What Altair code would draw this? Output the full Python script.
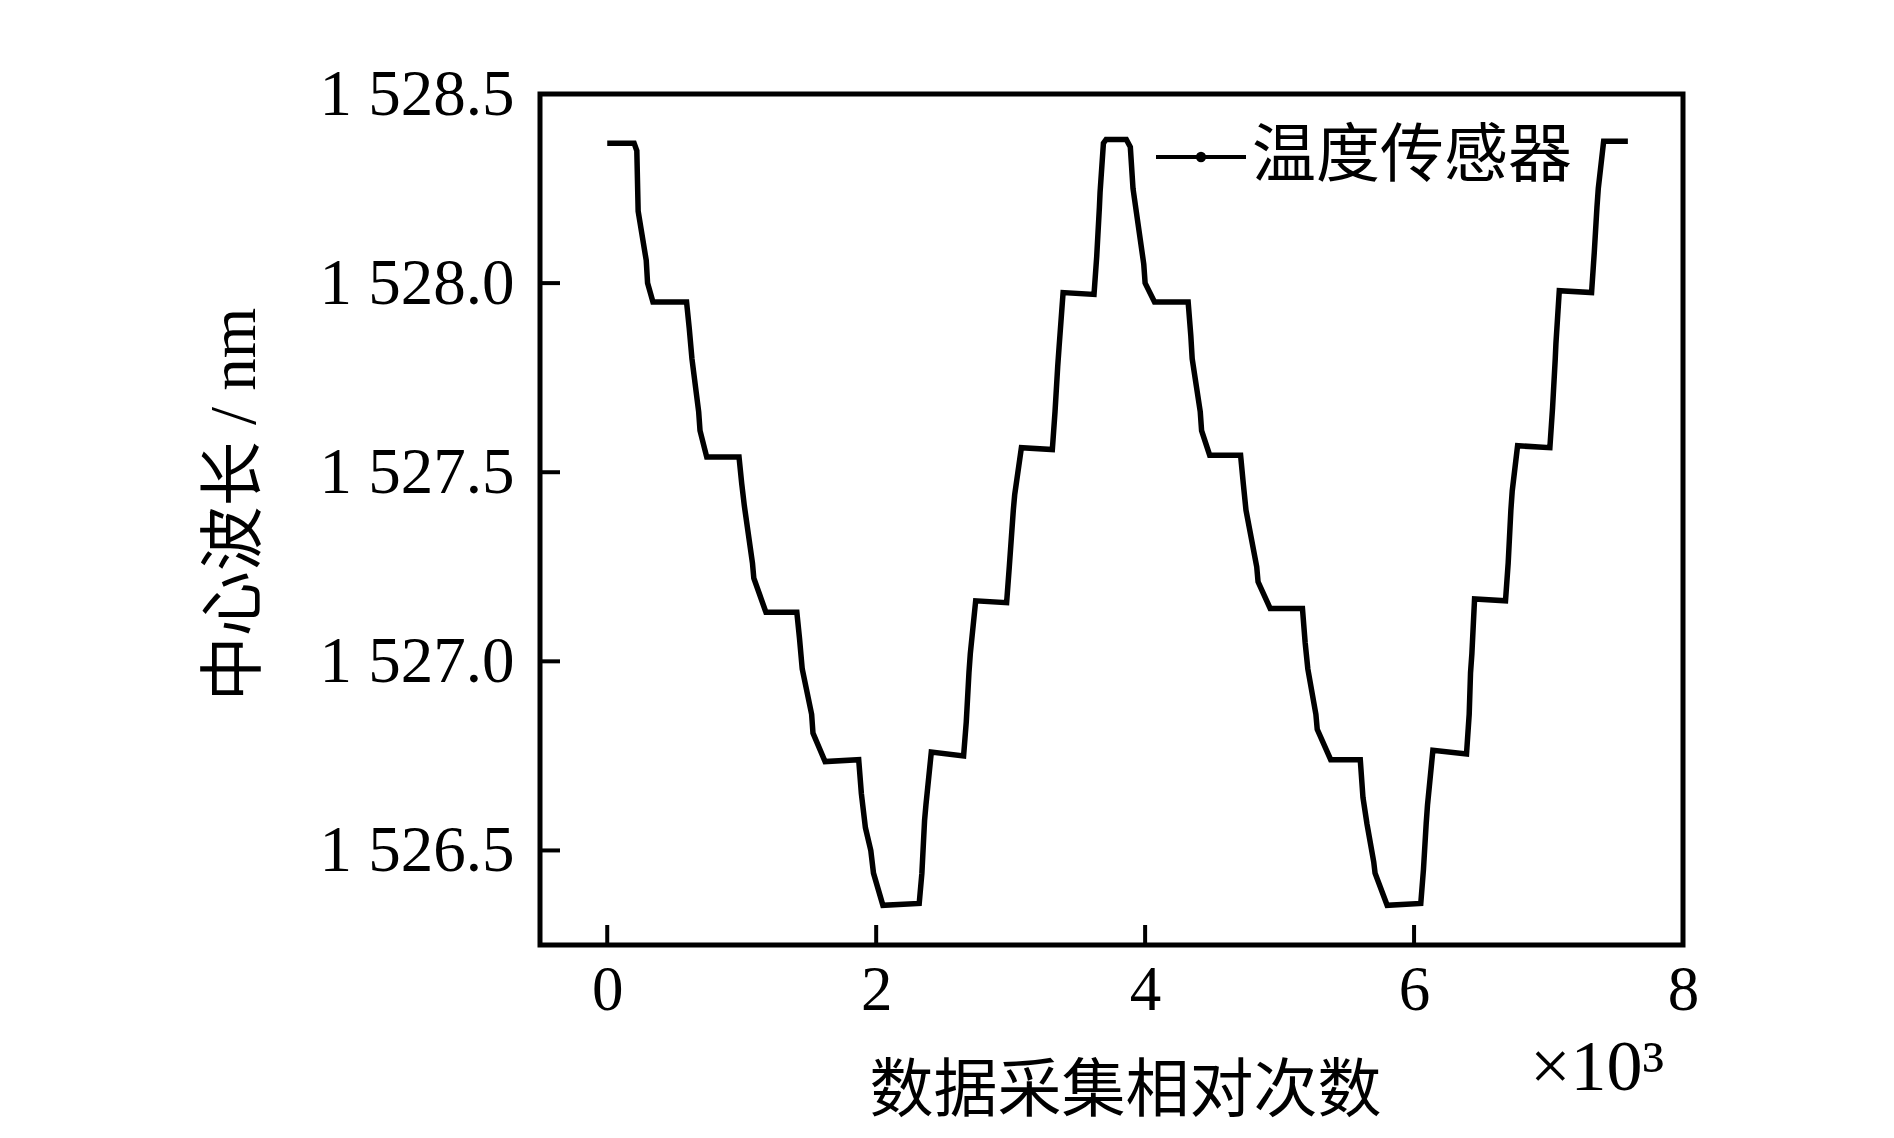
import altair as alt
import pandas as pd

series_name = "温度传感器"
x_title = "数据采集相对次数"
y_title = "中心波长 / nm"
x_multiplier = "×10³"

x_vals = [
    0.00, 0.20, 0.22, 0.23, 0.29, 0.30, 0.34,
    0.59, 0.61, 0.63, 0.68, 0.69, 0.74,
    0.98, 1.00, 1.02, 1.08, 1.09, 1.18,
    1.41, 1.43, 1.45, 1.52, 1.53, 1.62,
    1.87, 1.89, 1.92, 1.96, 1.98, 2.05,
    2.32, 2.34, 2.36, 2.37, 2.41,
    2.65, 2.67, 2.69, 2.70, 2.74,
    2.97, 2.99, 3.02, 3.03, 3.08,
    3.31, 3.33, 3.35, 3.36, 3.39,
    3.62, 3.64, 3.66, 3.665, 3.69, 3.71,
    3.86, 3.89, 3.91, 3.99, 4.00, 4.07,
    4.32, 4.34, 4.35, 4.41, 4.42, 4.48,
    4.71, 4.73, 4.75, 4.83, 4.84, 4.93,
    5.17, 5.19, 5.21, 5.27, 5.28, 5.38,
    5.60, 5.62, 5.65, 5.70, 5.71, 5.80,
    6.05, 6.07, 6.09, 6.10, 6.14,
    6.39, 6.41, 6.42, 6.43, 6.45,
    6.68, 6.70, 6.72, 6.73, 6.77,
    7.01, 7.03, 7.05, 7.055, 7.08,
    7.32, 7.34, 7.36, 7.37, 7.41,
    7.59,
]
y_vals = [
    1528.37, 1528.37, 1528.35, 1528.19, 1528.06, 1528.00, 1527.95,
    1527.95, 1527.88, 1527.80, 1527.66, 1527.61, 1527.54,
    1527.54, 1527.47, 1527.41, 1527.26, 1527.22, 1527.13,
    1527.13, 1527.06, 1526.98, 1526.86, 1526.81, 1526.735,
    1526.74, 1526.65, 1526.56, 1526.50, 1526.44, 1526.355,
    1526.36, 1526.44, 1526.58, 1526.62, 1526.76,
    1526.75, 1526.84, 1526.97, 1527.02, 1527.16,
    1527.155, 1527.25, 1527.40, 1527.44, 1527.565,
    1527.56, 1527.66, 1527.78, 1527.83, 1527.975,
    1527.97, 1528.07, 1528.20, 1528.24, 1528.37, 1528.38,
    1528.38, 1528.36, 1528.25, 1528.05, 1528.00, 1527.95,
    1527.95, 1527.86, 1527.80, 1527.66, 1527.61, 1527.545,
    1527.545, 1527.47, 1527.40, 1527.25, 1527.21, 1527.14,
    1527.14, 1527.05, 1526.98, 1526.86, 1526.82, 1526.74,
    1526.74, 1526.64, 1526.57, 1526.47, 1526.44, 1526.355,
    1526.36, 1526.45, 1526.57, 1526.62, 1526.765,
    1526.755, 1526.86, 1526.97, 1527.02, 1527.165,
    1527.16, 1527.26, 1527.40, 1527.45, 1527.57,
    1527.565, 1527.67, 1527.80, 1527.84, 1527.98,
    1527.975, 1528.08, 1528.20, 1528.25, 1528.375,
    1528.375,
]

x_tick_values = [0, 2, 4, 6, 8]
y_tick_values = [1526.5, 1527.0, 1527.5, 1528.0, 1528.5]
y_inner_ticks = [1526.5, 1527.0, 1527.5, 1528.0]
x_domain = [-0.5, 8]
y_domain = [1526.25, 1528.5]

W, H = 1143, 851

df = pd.DataFrame({"x": x_vals, "y": y_vals, "i": list(range(len(x_vals))), "series": series_name})
df_xt = pd.DataFrame({"x": x_tick_values})
df_yt = pd.DataFrame({"y": y_inner_ticks})
df_mult = pd.DataFrame({"label": [x_multiplier]})

xs = alt.Scale(domain=x_domain, nice=False, zero=False)
ys = alt.Scale(domain=y_domain, nice=False, zero=False)

cjk = "Noto Sans CJK SC"
serif = "Liberation Serif"

x_axis = alt.Axis(
    values=x_tick_values, format="d", ticks=False, tickSize=0, domain=False, grid=False,
    labelFont=serif, labelFontSize=63, labelColor="black", labelPadding=14,
    labelFlush=False, labelOverlap=False, labelLimit=400,
    title=x_title, titleFont=cjk, titleFontSize=64, titleFontWeight="normal",
    titleColor="black", titleX=585, titleY=165, titleBaseline="alphabetic",
    titleAlign="center")
y_axis = alt.Axis(
    values=y_tick_values, labelExpr="'1 ' + format(datum.value - 1000, '.1f')",
    ticks=False, tickSize=0, domain=False, grid=False,
    labelFont=serif, labelFontSize=65, labelColor="black", labelPadding=26,
    labelFlush=False, labelOverlap=False, labelLimit=400,
    title=y_title, titleFont=serif + ", " + cjk, titleFontSize=65, titleFontWeight="normal",
    titleColor="black", titleX=-306, titleY=410, titleAngle=270,
    titleBaseline="middle", titleAlign="center")

legend_symbol = "M-1,0H1M-0.07,0a0.07,0.07 0 1,0 0.14,0a0.07,0.07 0 1,0 -0.14,0"

line = alt.Chart(df).mark_line(strokeWidth=5.5).encode(
    x=alt.X("x:Q", scale=xs, axis=x_axis),
    y=alt.Y("y:Q", scale=ys, axis=y_axis),
    color=alt.Color("series:N", scale=alt.Scale(range=["black"]), legend=alt.Legend(
        orient="none", legendX=614, legendY=16, title=None, symbolType=legend_symbol,
        symbolSize=8100, symbolStrokeWidth=4, labelFont=cjk, labelFontSize=64,
        labelColor="black", labelOffset=4, labelLimit=1000, padding=0)),
    order=alt.Order("i:Q"),
)

xticks = alt.Chart(df_xt).mark_rule(color="black", strokeWidth=4).encode(
    x=alt.X("x:Q", scale=xs, axis=x_axis),
    y=alt.value(H),
    y2=alt.value(H - 20),
)

yticks = alt.Chart(df_yt).mark_rule(color="black", strokeWidth=4).encode(
    y=alt.Y("y:Q", scale=ys, axis=y_axis),
    x=alt.value(0),
    x2=alt.value(20),
)

mult = alt.Chart(df_mult).mark_text(font=serif, fontSize=72, align="left",
                                     baseline="alphabetic", color="black").encode(
    x=alt.value(990), y=alt.value(996), text="label:N")

chart = alt.layer(line, xticks, yticks, mult).properties(
    width=W, height=H,
    padding={"left": 532, "top": 86, "right": 203, "bottom": 185},
    autosize=alt.AutoSizeParams(type="none"),
    background="white",
).configure_view(stroke="black", strokeWidth=5)

chart.save("out.html", embed_options={"renderer": "svg", "actions": False})
